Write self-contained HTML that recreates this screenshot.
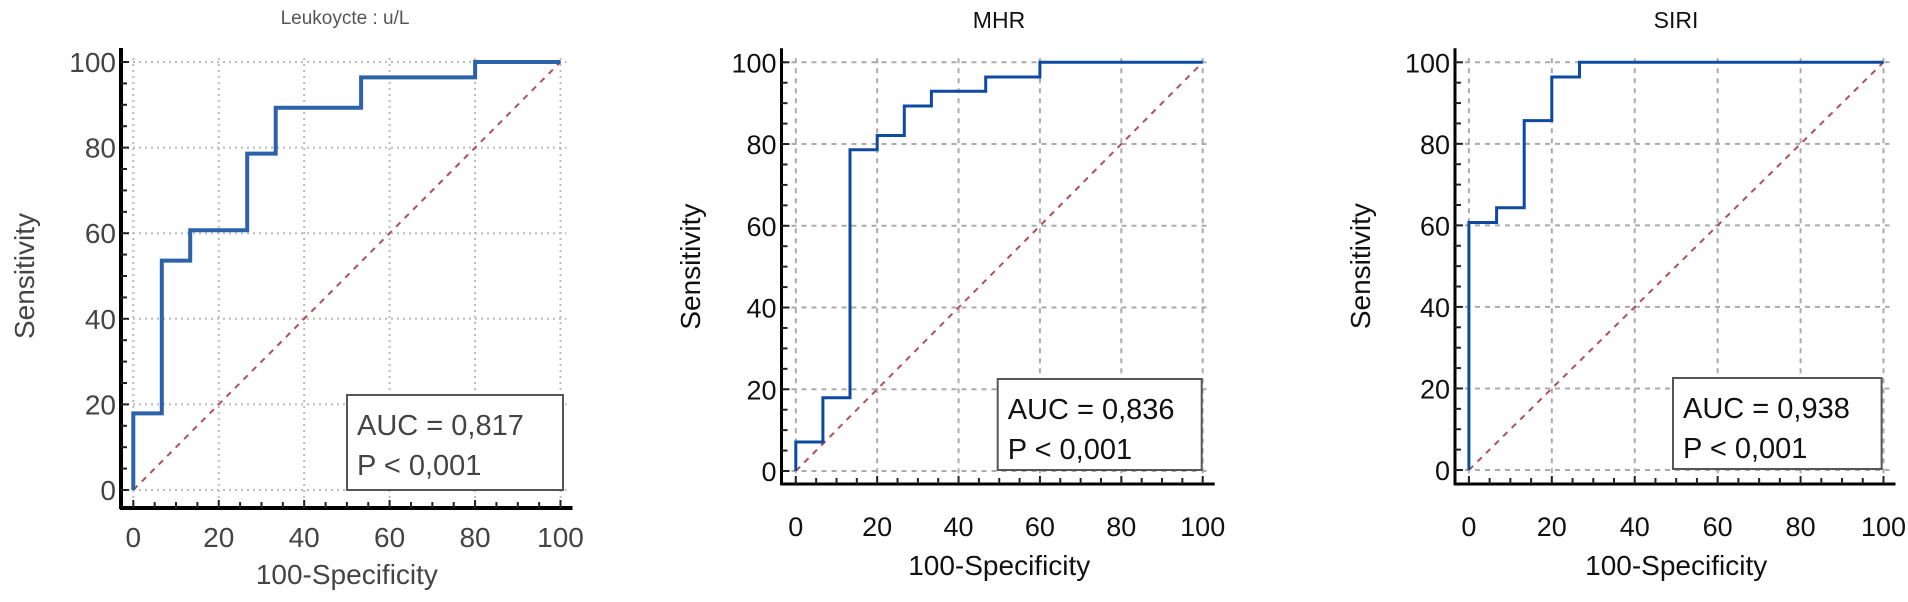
<!DOCTYPE html>
<html><head><meta charset="utf-8"><style>
html,body{margin:0;padding:0;background:#fff}
svg{display:block;font-family:"Liberation Sans",Arial,sans-serif}
</style></head><body>
<svg id="chart" width="1908" height="602" viewBox="0 0 1908 602"></svg>
<script>
const panelTitles = ["Leukoycte : u/L", "MHR", "SIRI"];
const aucLabels = ["AUC = 0,817", "AUC = 0,836", "AUC = 0,938"];
const pLabels = ["P < 0,001", "P < 0,001", "P < 0,001"];
const tickValues = [0, 20, 40, 60, 80, 100];
const leukoFpr = [0, 0, 6.67, 6.67, 13.33, 13.33, 26.67, 26.67, 33.33, 33.33, 53.33, 53.33, 80, 80, 100];
const leukoTpr = [0, 17.9, 17.9, 53.6, 53.6, 60.7, 60.7, 78.6, 78.6, 89.3, 89.3, 96.4, 96.4, 100, 100];
const mhrFpr = [0, 0, 6.67, 6.67, 13.33, 13.33, 20, 20, 26.67, 26.67, 33.33, 33.33, 46.67, 46.67, 60, 60, 100];
const mhrTpr = [0, 7.1, 7.1, 17.9, 17.9, 78.6, 78.6, 82.1, 82.1, 89.3, 89.3, 92.9, 92.9, 96.4, 96.4, 100, 100];
const siriFpr = [0, 0, 6.67, 6.67, 13.33, 13.33, 20, 20, 26.67, 26.67, 100];
const siriTpr = [0, 60.7, 60.7, 64.3, 64.3, 85.7, 85.7, 96.4, 96.4, 100, 100];

const NS = "http://www.w3.org/2000/svg";
const svg = document.getElementById("chart");
function mk(tag, attrs, parent) {
  const e = document.createElementNS(NS, tag);
  for (const k in attrs) e.setAttribute(k, attrs[k]);
  (parent || svg).appendChild(e);
  return e;
}

const layouts = [
  {x0:133.3, x1:560.5, y0:490, y1:62, axX:121, axY:508, titleY:24, titleX:345, ylabX:24, tickLY:547, xlabY:584, box:[347,395,216,95], grid:"#bbb", gdash:"2 4", lw:4, fs:28, col:"#444", axW:4},
  {x0:795.8, x1:1202.7, y0:471, y1:62.3, axX:781.5, axY:484, titleY:28, titleX:999, ylabX:690, tickLY:536, xlabY:575, box:[997.7,379,204,91], grid:"#aaa", gdash:"5 5", lw:3, fs:27, col:"#111", axW:3},
  {x0:1468.9, x1:1883.5, y0:470, y1:62.3, axX:1455, axY:484, titleY:28, titleX:1676, ylabX:1360, tickLY:536, xlabY:575, box:[1673,378,208.6,91], grid:"#aaa", gdash:"5 5", lw:3, fs:27, col:"#111", axW:3}
];
const fprs = [leukoFpr, mhrFpr, siriFpr];
const tprs = [leukoTpr, mhrTpr, siriTpr];
const names = ["leukocyte", "mhr", "siri"];

layouts.forEach((L, i) => {
  const g = mk("g", {});
  
  
  const sx = v => L.x0 + (L.x1 - L.x0) * v / 100;
  const sy = v => L.y0 + (L.y1 - L.y0) * v / 100;

  const t = mk("text", {x:L.titleX, y:L.titleY, "text-anchor":"middle", "font-size": i===0?19:23, fill: i===0?"#555":"#111"}, g);
  t.textContent = panelTitles[i];
  
  

  tickValues.forEach(v => {
    const gv = mk("line", {x1:sx(v), x2:sx(v), y1:L.y1-4, y2:L.axY, stroke:L.grid, "stroke-width":2, "stroke-dasharray":L.gdash}, g);
    
    
    const gh = mk("line", {x1:L.axX, x2:L.x1+6, y1:sy(v), y2:sy(v), stroke:L.grid, "stroke-width":2, "stroke-dasharray":L.gdash}, g);
    
    
  });

  const d = mk("line", {x1:sx(0), y1:sy(0), x2:sx(100), y2:sy(100), stroke:"#b0505a", "stroke-width":2, "stroke-dasharray":"6 6"}, g);
  
  

  const ay = mk("line", {x1:L.axX, x2:L.axX, y1:L.y1-14, y2:L.axY+1, stroke:"#000", "stroke-width":L.axW}, g);
  
  
  const ax = mk("line", {x1:L.axX-1, x2:L.x1+12, y1:L.axY, y2:L.axY, stroke:"#000", "stroke-width":L.axW}, g);
  
  
  for (let v = 0; v <= 100; v += 5) {
    const big = v % 20 === 0;
    const tx = mk("line", {x1:sx(v), x2:sx(v), y1:L.axY, y2:L.axY-(big?8:6), stroke:"#222", "stroke-width":2}, g);
    
    
    const ty = mk("line", {x1:L.axX, x2:L.axX+(big?8:6), y1:sy(v), y2:sy(v), stroke:"#222", "stroke-width":2}, g);
    
    
  }
  tickValues.forEach(v => {
    const xl = mk("text", {x:sx(v), y:L.tickLY, "text-anchor":"middle", "font-size":L.fs, fill:L.col}, g);
    xl.textContent = v;
    
    
    const yl = mk("text", {x:L.axX-5, y:sy(v)+10, "text-anchor":"end", "font-size":L.fs, fill:L.col}, g);
    yl.textContent = v;
    
    
  });

  const xt = mk("text", {x:(L.x0+L.x1)/2, y:L.xlabY, "text-anchor":"middle", "font-size":28, fill:L.col}, g);
  xt.textContent = "100-Specificity";
  
  
  const cy = (L.y0+L.y1)/2;
  const yt = mk("text", {x:L.ylabX, y:cy, "text-anchor":"middle", "font-size":28, fill:L.col, transform:`rotate(-90 ${L.ylabX} ${cy})`, dy:10}, g);
  yt.textContent = "Sensitivity";
  
  

  const pts = fprs[i].map((f, k) => sx(f).toFixed(1) + "," + sy(tprs[i][k]).toFixed(1)).join(" ");
  const c = mk("polyline", {points:pts, fill:"none", stroke: i===0?"#2b62a8":"#0d4aa0", "stroke-width":L.lw, "stroke-linejoin":"miter"}, g);
  
  

  const [bx, by, bw, bh] = L.box;
  const r = mk("rect", {x:bx, y:by, width:bw, height:bh, fill:"#fff", stroke:"#555", "stroke-width":2}, g);
  
  
  const a = mk("text", {x:bx+10, y:by+40, "font-size":29, fill:L.col}, g);
  a.textContent = aucLabels[i];
  
  
  const p = mk("text", {x:bx+10, y:by+80, "font-size":29, fill:L.col}, g);
  p.textContent = pLabels[i];
  
  
});
</script>
</body></html>
